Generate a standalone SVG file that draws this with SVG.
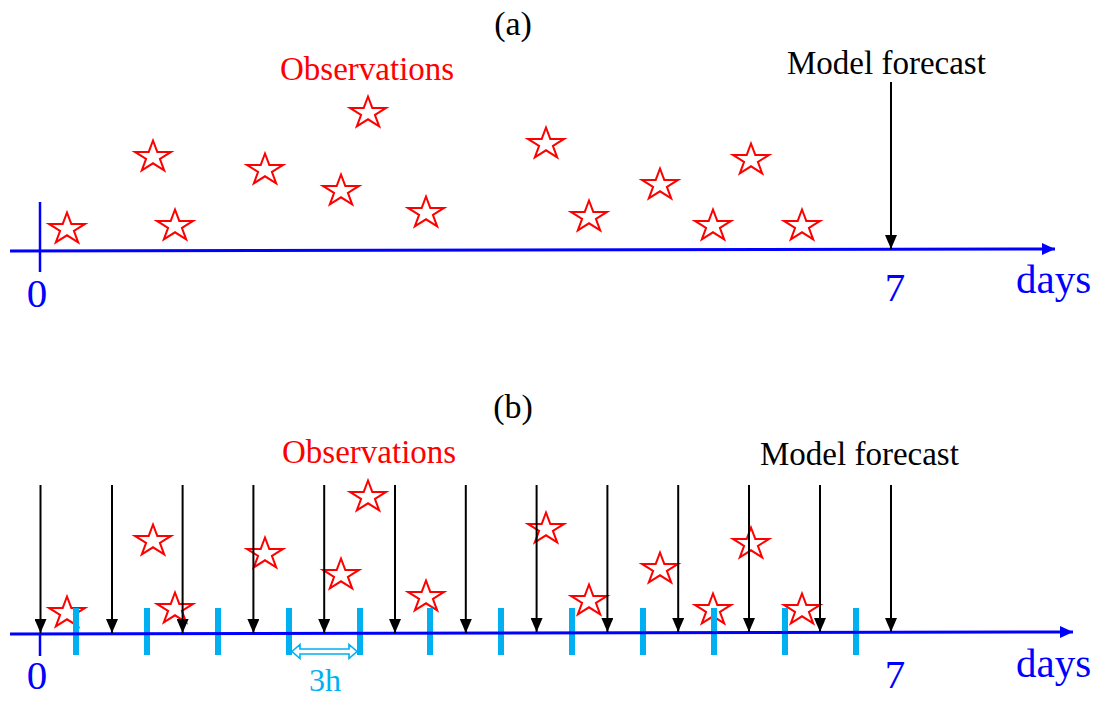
<svg xmlns="http://www.w3.org/2000/svg" xmlns:xlink="http://www.w3.org/1999/xlink" width="1100" height="702" viewBox="0 0 1100 702">
<style>
text{font-family:"Liberation Serif","Times New Roman",serif}
.title{font-size:34px;fill:#000;text-anchor:middle}
.obs{font-size:33px;fill:#FF0000}
.mf{font-size:33px;fill:#000}
.lbl{font-size:41px;fill:#0000FF}
.h3{font-size:32px;fill:#00B0F0;text-anchor:middle}
.star{fill:none;stroke:#FF0000;stroke-width:2;stroke-linejoin:miter}
.axis{stroke:#0000FF;stroke-width:3;fill:none}
.zero{stroke:#0000FF;stroke-width:2.5}
.fc{stroke:#000;stroke-width:2;fill:none}
.tick{stroke:#00B0F0;stroke-width:6}
</style>
<defs>
<path id="star" d="M0,-16.5 L4.27,-5.1 L18.07,-5.1 L6.9,1.95 L11.17,13.35 L0,6.3 L-11.17,13.35 L-6.9,1.95 L-18.07,-5.1 L-4.27,-5.1 Z"/>
<marker id="ah" viewBox="0 0 14 12" refX="14" refY="6" markerWidth="14" markerHeight="12" markerUnits="userSpaceOnUse" orient="auto"><path d="M0,0 L14,6 L0,12 Z" fill="#000"/></marker>
<marker id="bh" viewBox="0 0 13 12" refX="13" refY="6" markerWidth="13" markerHeight="12" markerUnits="userSpaceOnUse" orient="auto"><path d="M0,0 L13,6 L0,12 Z" fill="#0000FF"/></marker>
</defs>

<g id="panel-a">
<text class="title" x="513" y="35">(a)</text>
<text class="obs" x="280" y="80">Observations</text>
<text class="mf" x="787" y="74">Model forecast</text>
<g id="obs-a">
<use xlink:href="#star" class="star" x="67" y="229"/>
<use xlink:href="#star" class="star" x="153" y="157"/>
<use xlink:href="#star" class="star" x="175" y="226"/>
<use xlink:href="#star" class="star" x="265" y="170"/>
<use xlink:href="#star" class="star" x="341" y="191"/>
<use xlink:href="#star" class="star" x="368" y="113"/>
<use xlink:href="#star" class="star" x="426" y="213"/>
<use xlink:href="#star" class="star" x="546" y="144"/>
<use xlink:href="#star" class="star" x="589" y="217"/>
<use xlink:href="#star" class="star" x="660" y="185"/>
<use xlink:href="#star" class="star" x="713" y="226"/>
<use xlink:href="#star" class="star" x="751" y="160"/>
<use xlink:href="#star" class="star" x="802" y="226"/>
</g>
<g id="connectors-a">
<line class="zero" x1="40" y1="202" x2="40" y2="272"/>
<line class="axis" x1="10" y1="251" x2="1055" y2="249" marker-end="url(#bh)"/>
<line class="fc" x1="891" y1="82" x2="891" y2="249" marker-end="url(#ah)"/>
</g>
<text class="lbl" x="37" y="307" text-anchor="middle">0</text>
<text class="lbl" x="895" y="301" text-anchor="middle">7</text>
<text class="lbl" x="1016" y="293">days</text>
</g>

<g id="panel-b">
<text class="title" x="513" y="418">(b)</text>
<text class="obs" x="282" y="463">Observations</text>
<text class="mf" x="760" y="465">Model forecast</text>
<g id="obs-b">
<use xlink:href="#star" class="star" x="67" y="613"/>
<use xlink:href="#star" class="star" x="153" y="541"/>
<use xlink:href="#star" class="star" x="175" y="609"/>
<use xlink:href="#star" class="star" x="265" y="554"/>
<use xlink:href="#star" class="star" x="341" y="575"/>
<use xlink:href="#star" class="star" x="368" y="497"/>
<use xlink:href="#star" class="star" x="426" y="597"/>
<use xlink:href="#star" class="star" x="546" y="529"/>
<use xlink:href="#star" class="star" x="589" y="601"/>
<use xlink:href="#star" class="star" x="660" y="569"/>
<use xlink:href="#star" class="star" x="713" y="610"/>
<use xlink:href="#star" class="star" x="751" y="544"/>
<use xlink:href="#star" class="star" x="802" y="610"/>
</g>
<g id="ticks-b">
<line class="tick" x1="76" y1="608" x2="76" y2="655"/>
<line class="tick" x1="147" y1="608" x2="147" y2="655"/>
<line class="tick" x1="218" y1="608" x2="218" y2="655"/>
<line class="tick" x1="289" y1="608" x2="289" y2="655"/>
<line class="tick" x1="360" y1="608" x2="360" y2="655"/>
<line class="tick" x1="430" y1="608" x2="430" y2="655"/>
<line class="tick" x1="501" y1="608" x2="501" y2="655"/>
<line class="tick" x1="572" y1="608" x2="572" y2="655"/>
<line class="tick" x1="643" y1="608" x2="643" y2="655"/>
<line class="tick" x1="714" y1="608" x2="714" y2="655"/>
<line class="tick" x1="785" y1="608" x2="785" y2="655"/>
<line class="tick" x1="856" y1="608" x2="856" y2="655"/>
</g>
<g id="connectors-b">
<line class="zero" x1="40" y1="634" x2="40" y2="656"/>
<line class="axis" x1="10" y1="634" x2="1073" y2="632" marker-end="url(#bh)"/>
<line class="fc" x1="40.5" y1="485" x2="40.5" y2="633" marker-end="url(#ah)"/>
<line class="fc" x1="112" y1="485" x2="112" y2="633" marker-end="url(#ah)"/>
<line class="fc" x1="182.6" y1="485" x2="182.6" y2="633" marker-end="url(#ah)"/>
<line class="fc" x1="253.4" y1="485" x2="253.4" y2="633" marker-end="url(#ah)"/>
<line class="fc" x1="324.2" y1="485" x2="324.2" y2="633" marker-end="url(#ah)"/>
<line class="fc" x1="395" y1="485" x2="395" y2="633" marker-end="url(#ah)"/>
<line class="fc" x1="465.8" y1="485" x2="465.8" y2="633" marker-end="url(#ah)"/>
<line class="fc" x1="536.6" y1="485" x2="536.6" y2="632" marker-end="url(#ah)"/>
<line class="fc" x1="607.4" y1="485" x2="607.4" y2="632" marker-end="url(#ah)"/>
<line class="fc" x1="678.2" y1="485" x2="678.2" y2="632" marker-end="url(#ah)"/>
<line class="fc" x1="749" y1="485" x2="749" y2="632" marker-end="url(#ah)"/>
<line class="fc" x1="820" y1="485" x2="820" y2="632" marker-end="url(#ah)"/>
<line class="fc" x1="891" y1="485" x2="891" y2="632" marker-end="url(#ah)"/>
<path d="M292,651.5 L300,644.5 L300,649 L349,649 L349,644.5 L357,651.5 L349,658.5 L349,654 L300,654 L300,658.5 Z" fill="#fff" stroke="#00B0F0" stroke-width="1.6" stroke-linejoin="miter"/>
</g>
<text class="h3" x="325" y="691">3h</text>
<text class="lbl" x="37" y="689" text-anchor="middle">0</text>
<text class="lbl" x="895" y="688" text-anchor="middle">7</text>
<text class="lbl" x="1016" y="677">days</text>
</g>
</svg>
